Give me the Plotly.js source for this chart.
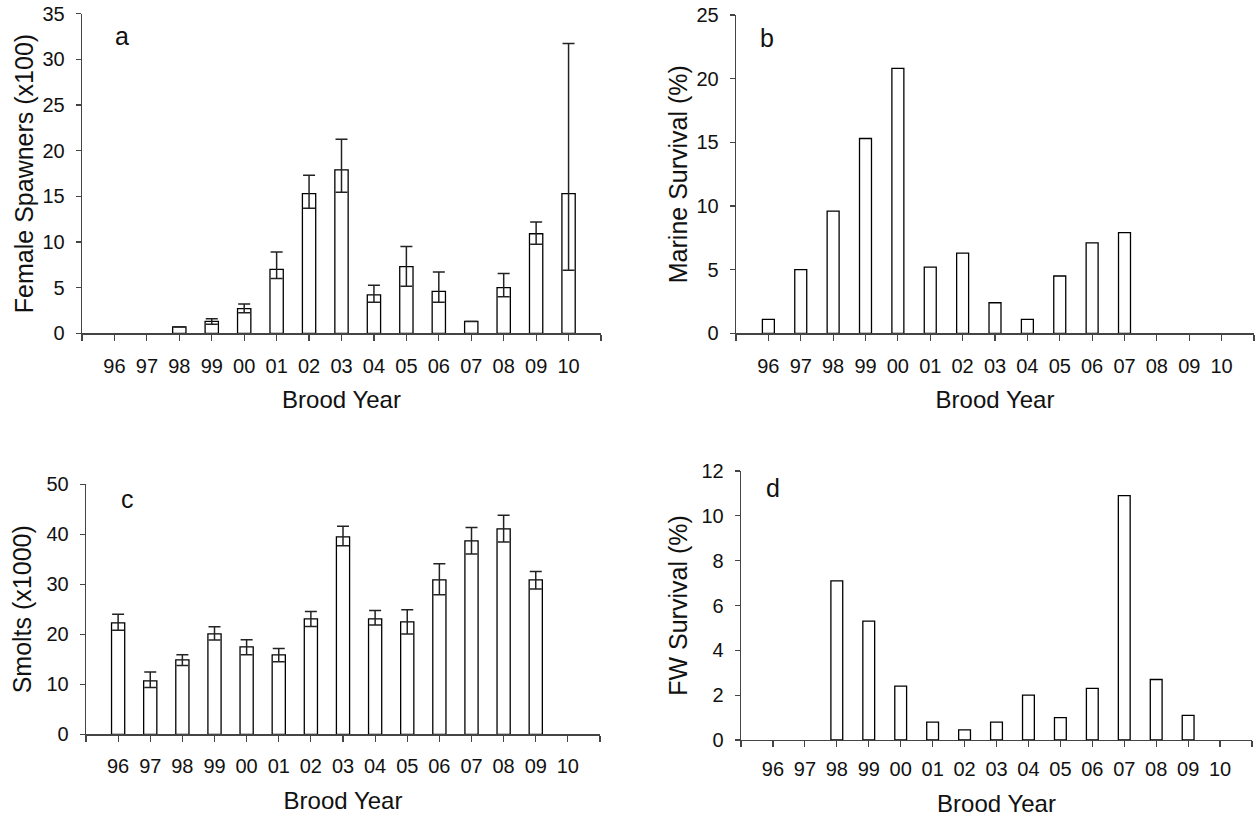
<!DOCTYPE html>
<html>
<head>
<meta charset="utf-8">
<script src="https://cdn.plot.ly/plotly-3.0.1.min.js"></script>
<style>html,body{margin:0;padding:0;background:#fff;}#chart{width:1257px;height:820px;}</style>
</head>
<body>
<div id="chart"></div>
<script>
// ---- data ----
const years = ['96','97','98','99','00','01','02','03','04','05','06','07','08','09','10'];

const spawners          = [null, null, 0.7, 1.3, 2.7, 7.0, 15.3, 17.9, 4.2, 7.3, 4.6, 1.3, 5.0, 10.9, 15.3];
const spawnersErrPlus   = [null, null, null, 0.3, 0.5, 1.9, 2.0, 3.35, 1.05, 2.2, 2.1, null, 1.55, 1.3, 16.45];
const spawnersErrMinus  = [null, null, null, 0.3, 0.45, 1.0, 1.6, 2.45, 0.8, 2.15, 1.2, null, 1.0, 1.15, 8.4];

const marineSurvival    = [1.1, 5.0, 9.6, 15.3, 20.8, 5.2, 6.3, 2.4, 1.1, 4.5, 7.1, 7.9, null, null, null];

const smolts            = [22.3, 10.7, 14.9, 20.1, 17.5, 15.9, 23.1, 39.5, 23.1, 22.5, 30.9, 38.7, 41.1, 30.9, null];
const smoltsErrPlus     = [1.7, 1.75, 1.0, 1.4, 1.4, 1.25, 1.45, 2.1, 1.65, 2.4, 3.2, 2.65, 2.7, 1.65, null];
const smoltsErrMinus    = [1.5, 1.35, 1.15, 1.25, 1.6, 1.4, 1.55, 1.8, 1.25, 2.45, 3.0, 2.65, 2.65, 1.85, null];

const fwSurvival        = [null, null, 7.1, 5.3, 2.4, 0.8, 0.45, 0.8, 2.0, 1.0, 2.3, 10.9, 2.7, 1.1, null];

// ---- helpers ----
const W = 1257, H = 820;
const FONT = 'Liberation Sans, Arial, sans-serif';
const xpos = years.map((_, i) => i);
const tickvals = [-1].concat(xpos, [years.length]);
const ticktext = [''].concat(years, ['']);

function barTrace(y, xa, ya, width, errPlus, errMinus) {
  const t = {
    type: 'bar', x: xpos, y: y, xaxis: xa, yaxis: ya, width: width,
    marker: {color: '#ffffff', line: {color: '#000000', width: 1.3}},
    hoverinfo: 'x+y', showlegend: false
  };
  if (errPlus) {
    t.error_y = {type: 'data', symmetric: false, array: errPlus, arrayminus: errMinus,
                 color: '#222222', thickness: 1.5, width: 6};
  }
  return t;
}

function xAxis(px0, px1, anchor, standoff, titleStandoff) {
  return {
    domain: [px0 / W, px1 / W], anchor: anchor, type: 'linear',
    range: [-1, years.length], tickmode: 'array', tickvals: tickvals, ticktext: ticktext,
    ticks: 'outside', ticklen: 6, tickwidth: 1.2, tickcolor: '#444',
    showline: true, linecolor: '#444', linewidth: 1.3, showgrid: false, zeroline: false,
    tickfont: {family: FONT, size: 20, color: '#111'}, ticklabelstandoff: standoff,
    title: {text: 'Brood Year', font: {family: FONT, size: 24, color: '#111'}, standoff: titleStandoff},
    fixedrange: true
  };
}

function yAxis(py0, py1, anchor, maxv, dtick, title, titleStandoff) {
  return {
    domain: [1 - py1 / H, 1 - py0 / H], anchor: anchor, range: [0, maxv], dtick: dtick,
    ticks: 'outside', ticklen: 5, tickwidth: 1.2, tickcolor: '#444',
    showline: true, linecolor: '#444', linewidth: 1.3, showgrid: false, zeroline: false,
    tickfont: {family: FONT, size: 20, color: '#111'}, ticklabelstandoff: 7,
    title: {text: title, font: {family: FONT, size: 25, color: '#111'}, standoff: titleStandoff},
    fixedrange: true
  };
}

const data = [
  barTrace(spawners, 'x', 'y', 0.41, spawnersErrPlus, spawnersErrMinus),
  barTrace(marineSurvival, 'x2', 'y2', 0.37),
  barTrace(smolts, 'x3', 'y3', 0.41, smoltsErrPlus, smoltsErrMinus),
  barTrace(fwSurvival, 'x4', 'y4', 0.37)
];

function letter(txt, px, py) {
  return {text: txt, x: px / W, y: 1 - py / H, xref: 'paper', yref: 'paper',
          showarrow: false, xanchor: 'center', yanchor: 'middle',
          font: {family: FONT, size: 25, color: '#111'}};
}

const layout = {
  width: W, height: H,
  margin: {l: 0, r: 0, t: 0, b: 0},
  paper_bgcolor: '#ffffff', plot_bgcolor: 'rgba(0,0,0,0)',
  showlegend: false,
  xaxis:  xAxis(82, 601, 'y', 8, 15),
  yaxis:  yAxis(13.7, 333.3, 'x', 35, 5, 'Female Spawners (x100)', 1),
  xaxis2: xAxis(736, 1254, 'y2', 8, 15),
  yaxis2: yAxis(15, 333.3, 'x2', 25, 5, 'Marine Survival (%)', 1),
  xaxis3: xAxis(86, 600, 'y3', 7, 16),
  yaxis3: yAxis(484.3, 734.3, 'x3', 50, 10, 'Smolts (x1000)', 7),
  xaxis4: xAxis(741, 1252, 'y4', 5, 16),
  yaxis4: yAxis(471, 740, 'x4', 12, 2, 'FW Survival (%)', 6),
  annotations: [
    letter('a', 122, 36),
    letter('b', 767, 38),
    letter('c', 127, 499),
    letter('d', 773, 488)
  ]
};

Plotly.newPlot('chart', data, layout, {staticPlot: true, displayModeBar: false});
</script>
</body>
</html>
